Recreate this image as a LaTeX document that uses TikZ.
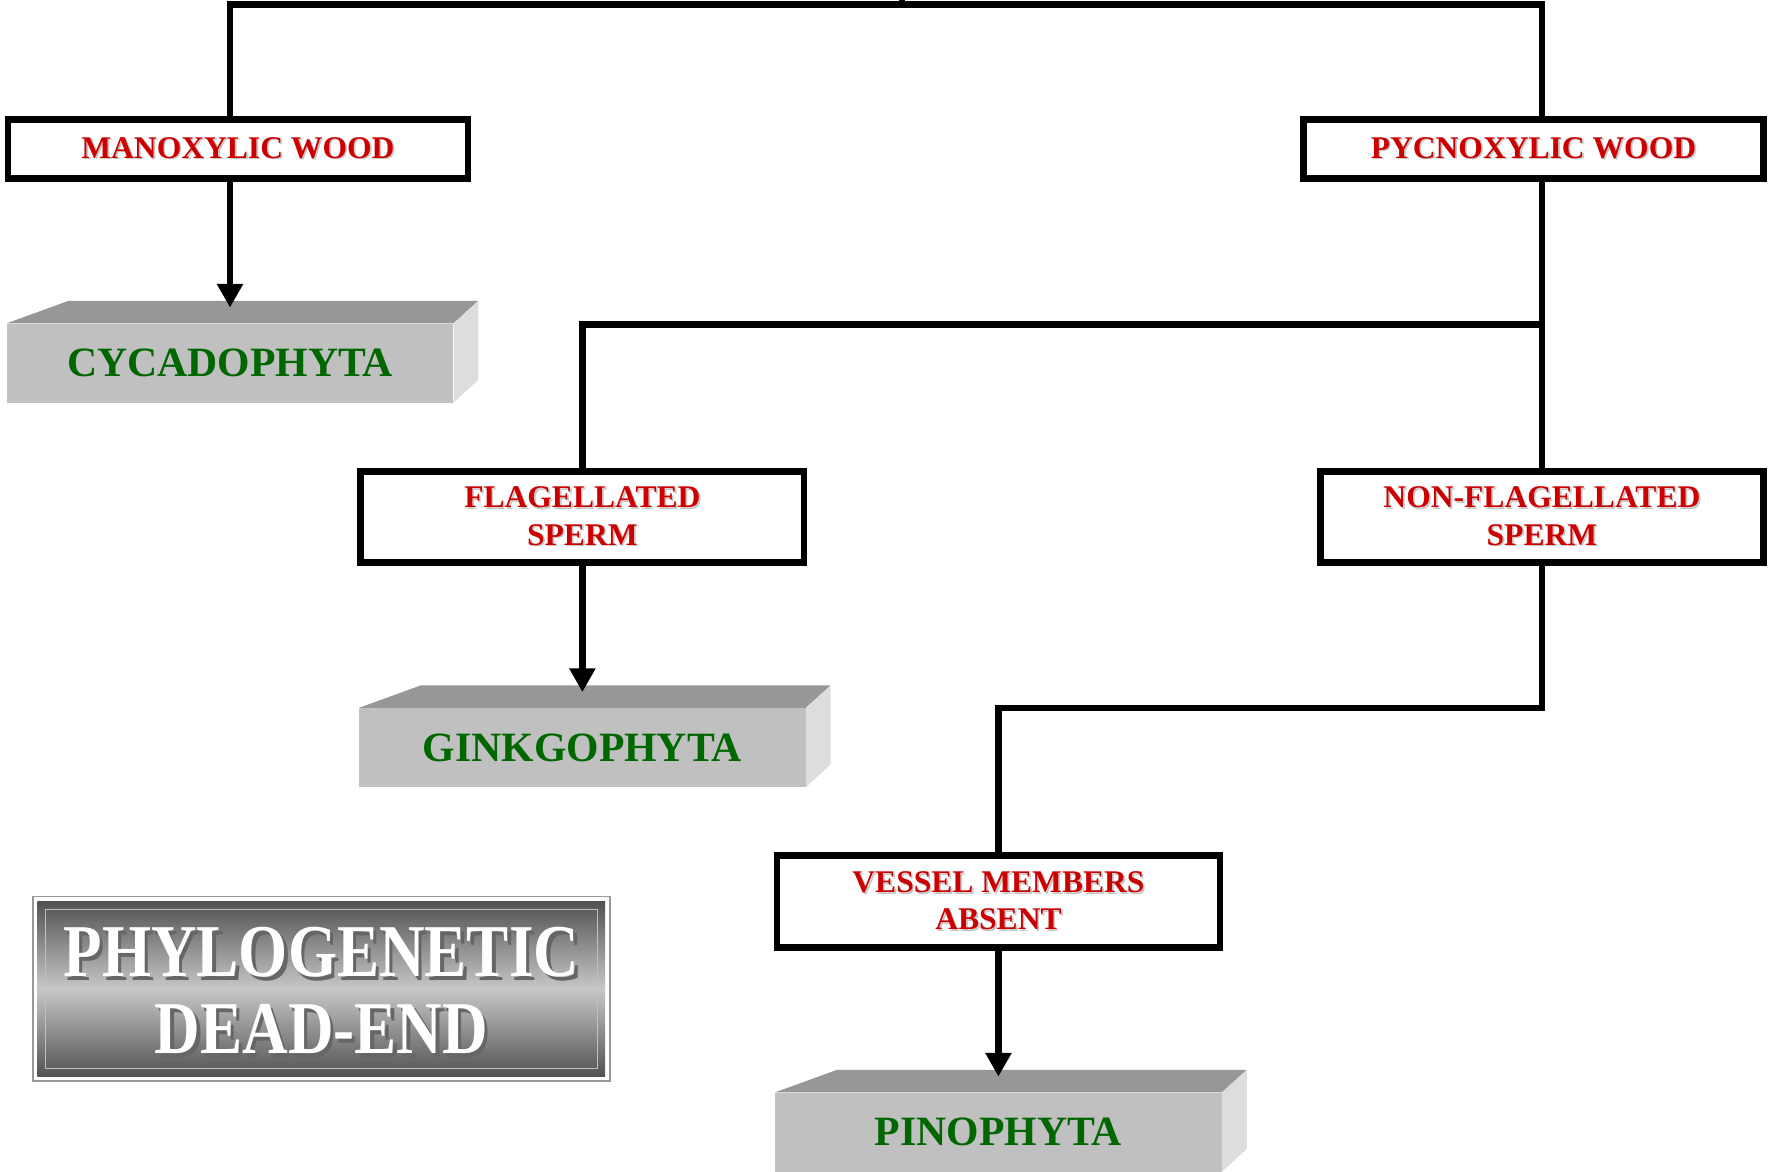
\documentclass[tikz,border=0pt]{standalone}
\usepackage{fontspec}
\setmainfont{Liberation Serif}
\usepackage{graphicx}
\usetikzlibrary{arrows.meta,calc}
\definecolor{redtxt}{HTML}{CC0000}
\definecolor{greentxt}{HTML}{006600}
\definecolor{taxfront}{HTML}{C0C0C0}
\definecolor{taxtop}{HTML}{979797}
\definecolor{taxside}{HTML}{DDDDDD}
\newcommand{\shd}[1]{\makebox[0pt][l]{\kern1.5pt\raisebox{-1.5pt}{\textcolor{black!22}{#1}}}#1}
\newcommand{\shdw}[1]{\makebox[0pt][l]{\kern3pt\raisebox{-3pt}{\textcolor{black!60}{#1}}}#1}
\begin{document}
\begin{tikzpicture}[x=1pt,y=-1pt,
  conn/.style={line width=6pt, line join=miter, draw=black},
  arr/.style={conn, -{Triangle[width=22pt,length=21pt]}, shorten >=14pt},
  charbox/.style={draw=black, line width=6pt, fill=white, inner sep=0pt, align=center,
    text=redtxt, font={\fontsize{28}{33}\selectfont\bfseries}},
  taxon/.style={fill=taxfront, inner sep=0pt, minimum width=396pt, minimum height=70pt,
    text=greentxt, font={\fontsize{37}{40}\selectfont\bfseries}},
  toptop/.style={fill=taxtop},
  sideface/.style={fill=taxside}]
\useasboundingbox (0,0) rectangle (1568,1039);

% character boxes
\node[charbox, minimum width=408pt, minimum height=52pt] (man) at (211,132) {\shd{MANOXYLIC WOOD}};
\node[charbox, minimum width=408pt, minimum height=52pt] (pyc) at (1360,132) {\shd{PYCNOXYLIC WOOD}};
\node[charbox, minimum width=393pt, minimum height=81pt] (fl) at (516.5,458.5) {\shd{FLAGELLATED}\\\shd{SPERM}};
\node[charbox, minimum width=393pt, minimum height=81pt] (nfl) at (1367.5,458.5) {\shd{NON-FLAGELLATED}\\\shd{SPERM}};
\node[charbox, minimum width=393pt, minimum height=81pt] (ves) at (885.5,799.5) {\shd{VESSEL MEMBERS}\\\shd{ABSENT}};

% taxon boxes (3D)
\node[taxon] (cyc) at (204,322) {CYCADOPHYTA};
\node[taxon] (gin) at (516.5,663) {GINKGOPHYTA};
\node[taxon] (pin) at (885.5,1004) {PINOPHYTA};
\foreach \t in {cyc,gin,pin}{
  \fill[toptop] (\t.north west) -- ++(55,-20) -- ($(\t.north east)+(22,-20)$) -- (\t.north east) -- cycle;
  \fill[sideface] (\t.north east) -- ++(22,-20) -- ++(0,70) -- (\t.south east) -- cycle;
}

% phylogenetic dead-end panel
\node[draw=black!40, line width=1.5pt, fill=white, minimum width=512pt, minimum height=164pt, inner sep=0pt] (pd) at (285,877) {};
\path[top color=black!68, bottom color=black!68, middle color=black!22]
  ($(pd.north west)+(5,5)$) rectangle ($(pd.south east)+(-5,-5)$);
\draw[black!25, line width=1pt] ($(pd.north west)+(12,12)$) rectangle ($(pd.south east)+(-12,-12)$);
\node[align=center, text=white, inner sep=0pt, font={\fontsize{56}{68}\selectfont\bfseries}] (pdt) at (285,880)
  {\scalebox{1}[1.18]{\shdw{PHYLOGENETIC}}\\\scalebox{1}[1.18]{\shdw{DEAD-END}}};

% connectors
\coordinate (root) at (800,0);
\coordinate (tl) at (204,4);
\coordinate (tr) at (1367.5,4);
\coordinate (tm) at (800,4);
\coordinate (j2) at (1367.5,288);
\coordinate (j3) at (516.5,288);
\coordinate (j4) at (1367.5,628);
\coordinate (j5) at (885.5,628);

\draw[conn] (root) -- (tm);
\draw[conn] (man.north -| tl) -- (tl) -- (tr) -- (pyc.north -| tr);
\draw[conn] (pyc.south -| tr) -- (nfl.north);
\draw[conn] (j2) -- (j3) -- (fl.north);
\draw[conn] (nfl.south) -- (j4) -- (j5) -- (ves.north);

\draw[arr] (man.south -| tl) -- (cyc.north);
\draw[arr] (fl.south) -- (gin.north);
\draw[arr] (ves.south) -- (pin.north);
\end{tikzpicture}
\end{document}
